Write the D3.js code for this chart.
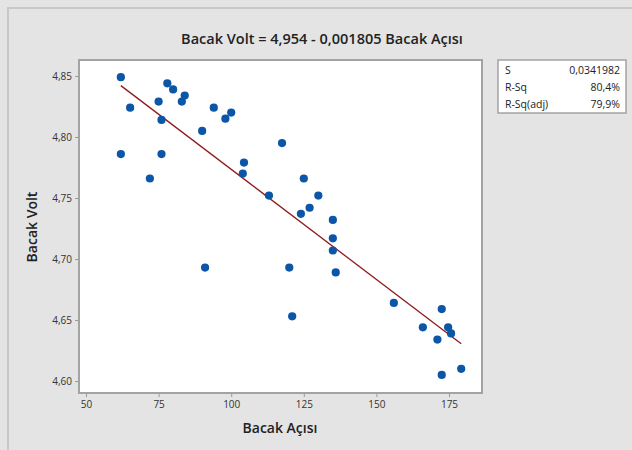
<!DOCTYPE html>
<html><head><meta charset="utf-8">
<script src="https://cdn.jsdelivr.net/npm/d3@7"></script>
<style>
html,body{margin:0;padding:0;background:#e4e4e4;}
svg{display:block;}
text{font-family:"Open Sans","DejaVu Sans",sans-serif;}
</style></head>
<body><svg id="c" width="632" height="450"></svg>
<script>
const bacakAcisi = [62,65.2,62,72,75,76,76,78,80,83,84,90,91,94,98,100,104,104.4,113,117.5,120,121,124,125,127,130,135,135,135,136,156,166,171,172.5,172.5,174.7,175.7,179.2];
const bacakVolt  = [4.849,4.824,4.786,4.766,4.829,4.814,4.786,4.844,4.839,4.829,4.834,4.805,4.693,4.824,4.815,4.820,4.770,4.779,4.752,4.795,4.693,4.653,4.737,4.766,4.742,4.752,4.732,4.717,4.707,4.689,4.664,4.644,4.634,4.659,4.605,4.644,4.639,4.610];
const xTicks = [50,75,100,125,150,175];
const yTicks = [4.60,4.65,4.70,4.75,4.80,4.85];
const intercept = 4.954, slope = -0.001805;
const statLabels = ["S","R-Sq","R-Sq(adj)"];
const statValues = ["0,0341982","80,4%","79,9%"];
const title = "Bacak Volt = 4,954 - 0,001805 Bacak Açısı";

const svg = d3.select("#c");
const fmt = d => d3.format(".2f")(d).replace(".", ",");
const pL=79, pT=60, pR=482, pB=393;
const x = d3.scaleLinear().domain([47.59,186.36]).range([pL,pR]);
const y = d3.scaleLinear().domain([4.5902,4.8631]).range([pB,pT]);

// outer border
svg.append("rect").attr("x",8).attr("y",8).attr("width",700).attr("height",500)
  .attr("fill","#e4e4e4").attr("stroke","#c8c8c8").attr("stroke-width",2);

// plot area
svg.append("rect").attr("x",pL).attr("y",pT).attr("width",pR-pL).attr("height",pB-pT)
  .attr("fill","#fff").attr("stroke","#a3a3a3").attr("stroke-width",2);

// axes
const xa = svg.append("g").attr("transform",`translate(0,${pB+1})`)
  .call(d3.axisBottom(x).tickValues(xTicks).tickSize(3).tickPadding(4).tickFormat(d3.format("d")));
const ya = svg.append("g").attr("transform",`translate(${pL-1},0)`)
  .call(d3.axisLeft(y).tickValues(yTicks).tickSize(3).tickPadding(3).tickFormat(fmt));
[xa,ya].forEach(a=>{
  a.select(".domain").remove();
  a.selectAll(".tick line").attr("stroke","#999");
  a.selectAll(".tick text").attr("fill","#333").style("font-size","10px");
});

// regression line
const xmin = d3.min(bacakAcisi), xmax = d3.max(bacakAcisi);
svg.append("line")
  .attr("x1",x(xmin)).attr("y1",y(intercept+slope*xmin))
  .attr("x2",x(xmax)).attr("y2",y(intercept+slope*xmax))
  .attr("stroke","#8e1b1b").attr("stroke-width",1.3);

// points
svg.append("g").selectAll("circle").data(bacakAcisi).join("circle")
  .attr("cx",(d)=>x(d)).attr("cy",(d,i)=>y(bacakVolt[i])).attr("r",4.1)
  .attr("fill","#0b56a6");

// title
svg.append("text").attr("x",322).attr("y",44).attr("text-anchor","middle")
  .style("font-size","14.5px").style("font-weight","600").attr("fill","#222").text(title);

// axis titles
svg.append("text").attr("x",280).attr("y",433).attr("text-anchor","middle")
  .style("font-size","14px").style("font-weight","600").attr("fill","#222").text("Bacak Açısı");
svg.append("text").attr("transform","translate(37,227) rotate(-90)").attr("text-anchor","middle")
  .style("font-size","14px").style("font-weight","600").attr("fill","#222").text("Bacak Volt");

// stats box
const bx=498, by=60, bw=128, bh=53;
svg.append("rect").attr("x",bx).attr("y",by).attr("width",bw).attr("height",bh)
  .attr("fill","#fff").attr("stroke","#a3a3a3").attr("stroke-width",1.5);
const rows = svg.append("g").selectAll("g").data(statLabels).join("g")
  .attr("transform",(d,i)=>`translate(0,${by+14+i*17})`);
rows.append("text").attr("x",bx+7).style("font-size","10.5px").attr("fill","#222").text(d=>d);
rows.append("text").attr("x",bx+bw-6).attr("text-anchor","end").style("font-size","10.5px").attr("fill","#222")
  .text((d,i)=>statValues[i]);
</script></body></html>
